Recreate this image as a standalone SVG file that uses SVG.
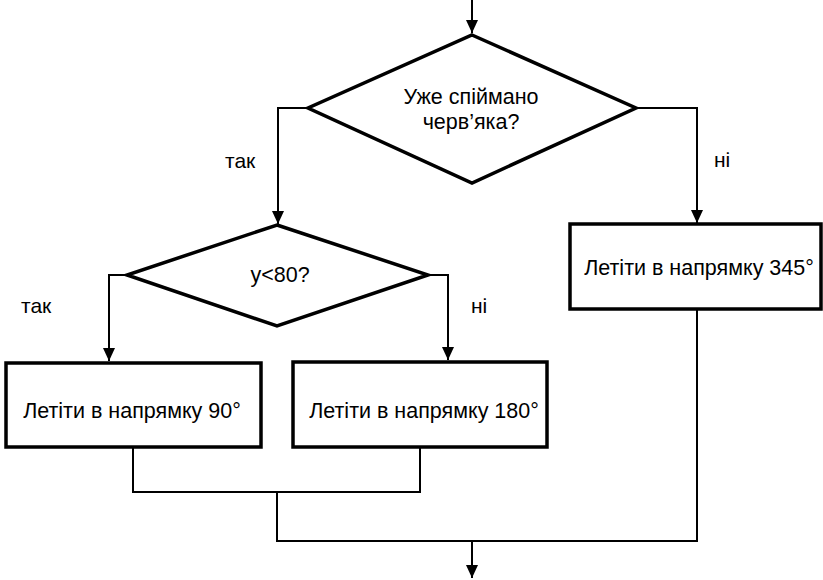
<svg xmlns="http://www.w3.org/2000/svg" width="823" height="580" viewBox="0 0 823 580">
  <style>
    .shape { fill: #fff; stroke: #000; stroke-width: 3.5; stroke-linejoin: miter; }
    .conn { fill: none; stroke: #000; stroke-width: 2; }
    .txt { font-family: "Liberation Sans", Arial, sans-serif; font-size: 21.5px; fill: #000; text-anchor: middle; }
    .lbl { font-family: "Liberation Sans", Arial, sans-serif; font-size: 21px; fill: #000; }
  </style>
  <defs>
    <marker id="arrow" markerWidth="12" markerHeight="14" refX="6" refY="13" orient="0" markerUnits="userSpaceOnUse" viewBox="0 0 12 14">
      <path d="M0,0 L12,0 L6,13 Z" fill="#000"/>
    </marker>
  </defs>
  <rect width="823" height="580" fill="#fff"/>

  <g id="connectors">
    <!-- entry -->
    <line class="conn" x1="472" y1="0" x2="472" y2="33" marker-end="url(#arrow)"/>
    <!-- first decision: yes -->
    <polyline class="conn" points="308,108 278,108 278,224" marker-end="url(#arrow)"/>
    <!-- first decision: no -->
    <polyline class="conn" points="636,108 697,108 697,223" marker-end="url(#arrow)"/>
    <!-- second decision: yes -->
    <polyline class="conn" points="127,275 109,275 109,361" marker-end="url(#arrow)"/>
    <!-- second decision: no -->
    <polyline class="conn" points="428,275 448,275 448,360" marker-end="url(#arrow)"/>
    <!-- merge of lower boxes -->
    <polyline class="conn" points="133,447 133,492 420,492 420,447"/>
    <polyline class="conn" points="277,492 277,541 697,541 697,309"/>
    <!-- exit -->
    <line class="conn" x1="472" y1="541" x2="472" y2="578" marker-end="url(#arrow)"/>
  </g>

  <g id="decision-worm">
    <polygon class="shape" points="472,35 636,108 472,183 308,108"/>
    <text class="txt" x="471" y="104">Уже спіймано</text>
    <text class="txt" x="471" y="129">черв’яка?</text>
  </g>

  <g id="decision-y">
    <polygon class="shape" points="277,225 428,275 277,326 127,275"/>
    <text class="txt" x="280" y="282">y&lt;80?</text>
  </g>

  <g id="fly-345">
    <rect class="shape" x="570" y="224" width="251" height="85"/>
    <text class="txt" x="699" y="275">Летіти в напрямку 345°</text>
  </g>

  <g id="fly-90">
    <rect class="shape" x="6" y="363" width="255" height="84"/>
    <text class="txt" x="132" y="418">Летіти в напрямку 90°</text>
  </g>

  <g id="fly-180">
    <rect class="shape" x="293" y="362" width="254" height="85"/>
    <text class="txt" x="424" y="418">Летіти в напрямку 180°</text>
  </g>

  <g id="labels">
    <text class="lbl" x="225" y="168">так</text>
    <text class="lbl" x="714" y="167">ні</text>
    <text class="lbl" x="21" y="313">так</text>
    <text class="lbl" x="471" y="313">ні</text>
  </g>
</svg>
